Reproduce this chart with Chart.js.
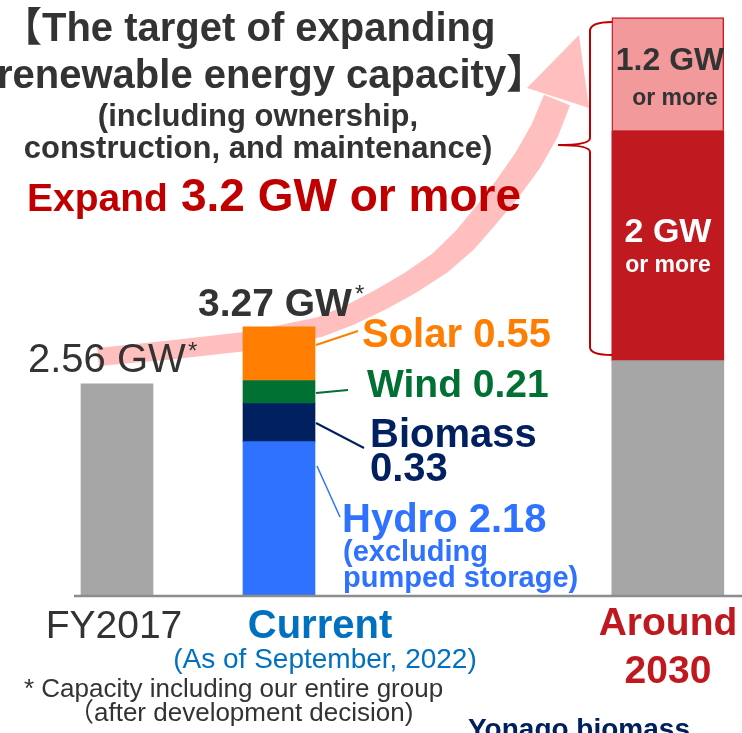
<!DOCTYPE html>
<html>
<head>
<meta charset="utf-8">
<script src="https://cdn.jsdelivr.net/npm/chart.js@4.4.0/dist/chart.umd.min.js"></script>
<style>
    html, body { margin: 0; padding: 0; background: #fff; }
    #chartBox { width: 742px; height: 733px; }
</style>
</head>
<body>
<div id="chartBox"><canvas id="myChart" width="742" height="733"></canvas></div>
<script>
// categories and where they sit on the x axis (the original spacing is uneven)
const categories = ['FY2017', 'Current', 'Around 2030'];
const slots = [0, 1, 3.4];

// bar heights as drawn in the picture (GW); the printed labels are kept separately
const fy2017Values = [2.56];
const currentParts = ['Hydro', 'Biomass', 'Wind', 'Solar'];
const currentValues = [1.86, 0.46, 0.28, 0.65];
const currentLabels = ['Hydro 2.18', 'Biomass 0.33', 'Wind 0.21', 'Solar 0.55'];
const targetParts = ['Existing', '2 GW or more', '1.2 GW or more'];
const targetValues = [2.84, 2.79, 1.37];
const totalLabels = ['2.56 GW', '3.27 GW'];

const FONT = '"Liberation Sans", Arial, "Noto Sans CJK JP", sans-serif';

function text(ctx, str, x, y, size, bold, color, align) {
    ctx.save();
    ctx.font = (bold ? 'bold ' : '') + size + 'px ' + FONT;
    ctx.fillStyle = color;
    ctx.textAlign = align || 'left';
    ctx.textBaseline = 'alphabetic';
    ctx.fillText(str, x, y);
    ctx.restore();
}

function line(ctx, x1, y1, x2, y2, color, width) {
    ctx.save();
    ctx.strokeStyle = color;
    ctx.lineWidth = width;
    ctx.beginPath();
    ctx.moveTo(x1, y1);
    ctx.lineTo(x2, y2);
    ctx.stroke();
    ctx.restore();
}

// big pink arrow behind the bars
function drawArrow(ctx) {
    const pts = [[98, 357, 18], [170, 350, 19], [250, 341, 19], [320, 327, 20], [350, 315, 21],
        [380, 300, 22], [410, 283, 23], [440, 263, 24], [465, 240, 26], [487, 214, 27],
        [508, 188, 28], [528, 160, 29], [545, 130, 29], [557, 100, 28]];
    let left = [], right = [];
    for (let n = 0; n < pts.length; n++) {
        let a = pts[Math.max(n - 1, 0)], b = pts[Math.min(n + 1, pts.length - 1)];
        let tx = b[0] - a[0], ty = b[1] - a[1];
        let len = Math.sqrt(tx * tx + ty * ty);
        let nx = -ty / len, ny = tx / len;
        let h = pts[n][2] / 2;
        left.push([pts[n][0] + nx * h, pts[n][1] + ny * h]);
        right.push([pts[n][0] - nx * h, pts[n][1] - ny * h]);
    }
    ctx.save();
    ctx.fillStyle = '#ffbfbf';
    ctx.beginPath();
    ctx.moveTo(left[0][0], left[0][1]);
    for (let n = 1; n < left.length; n++) ctx.lineTo(left[n][0], left[n][1]);
    for (let n = right.length - 1; n >= 0; n--) ctx.lineTo(right[n][0], right[n][1]);
    ctx.closePath();
    ctx.fill();
    ctx.beginPath();
    ctx.moveTo(527, 88);
    ctx.lineTo(579, 35);
    ctx.lineTo(589, 108);
    ctx.closePath();
    ctx.fill();
    ctx.restore();
}

function drawBrace(ctx) {
    ctx.save();
    ctx.strokeStyle = '#c00000';
    ctx.lineWidth = 2;
    ctx.beginPath();
    ctx.moveTo(612, 22);
    ctx.quadraticCurveTo(590, 22, 590, 31);
    ctx.lineTo(590, 138);
    ctx.quadraticCurveTo(590, 145, 558, 145);
    ctx.quadraticCurveTo(590, 145, 590, 152);
    ctx.lineTo(590, 347);
    ctx.quadraticCurveTo(590, 355, 612, 355);
    ctx.stroke();
    ctx.restore();
}

const decorPlugin = {
    id: 'decor',
    beforeDatasetsDraw(chart) {
        drawArrow(chart.ctx);
    },
    afterDatasetsDraw(chart) {
        const ctx = chart.ctx;
        const y0 = chart.scales.y.getPixelForValue(0);
        line(ctx, 74, y0 + 1, 742, y0 + 1, '#8c8c8c', 2.5);
        drawBrace(ctx);

        // leader lines from the current bar
        line(ctx, 316, 345, 358, 331, '#ff7d00', 2);
        line(ctx, 316, 393, 348, 390, '#007033', 2);
        line(ctx, 316, 423, 364, 448, '#002060', 2);
        line(ctx, 317, 466, 340, 517, '#2e72ff', 1.5);

        // title block
        const dark = '#333333';
        text(ctx, '【', 2, 41, 40, true, dark);
        text(ctx, 'The target of expanding', 42, 41, 40, true, dark);
        text(ctx, 'renewable energy capacity】', -3, 88, 40, true, dark);
        text(ctx, '(including ownership,', 258, 126, 31, true, dark, 'center');
        text(ctx, 'construction, and maintenance)', 258, 158, 31, true, dark, 'center');
        text(ctx, 'Expand', 27, 211, 39, true, '#c00000');
        text(ctx, '3.2 GW or more', 181, 211, 46, true, '#c00000');

        // totals
        text(ctx, totalLabels[0], 28, 372, 40, false, dark);
        text(ctx, '*', 188, 359, 24, false, dark);
        text(ctx, totalLabels[1], 198, 316, 39, true, dark);
        text(ctx, '*', 355, 302, 24, false, dark);

        // current breakdown
        text(ctx, currentLabels[3], 362, 347, 40, true, '#ff7d00');
        text(ctx, currentLabels[2], 367, 397, 39, true, '#007033');
        text(ctx, 'Biomass', 370, 447, 40, true, '#002060');
        text(ctx, '0.33', 370, 481, 40, true, '#002060');
        text(ctx, currentLabels[0], 342, 532, 40, true, '#2e72ff');
        text(ctx, '(excluding', 343, 561, 29, true, '#2e72ff');
        text(ctx, 'pumped storage)', 343, 587, 29, true, '#2e72ff');

        // 2030 segments
        text(ctx, '1.2 GW', 670, 70, 32, true, dark, 'center');
        text(ctx, 'or more', 675, 105, 23, true, dark, 'center');
        text(ctx, '2 GW', 668, 242, 34, true, '#ffffff', 'center');
        text(ctx, 'or more', 668, 272, 23, true, '#ffffff', 'center');

        // category labels
        text(ctx, categories[0], 114, 638, 39, false, dark, 'center');
        text(ctx, categories[1], 320, 638, 40, true, '#0070c0', 'center');
        text(ctx, '(As of September, 2022)', 325, 668, 28, false, '#0070c0', 'center');
        text(ctx, 'Around', 668, 635, 39, true, '#c0181f', 'center');
        text(ctx, '2030', 668, 683, 39, true, '#c0181f', 'center');

        // footnotes
        text(ctx, '* Capacity including our entire group', 24, 697, 26, false, dark);
        text(ctx, '（after development decision)', 68, 721, 26, false, dark);
        text(ctx, 'Yonago biomass', 468, 738, 28, true, '#002060');
    }
};

const pt = (slot, v) => [{ x: slot, y: v }];
const colorsCurrent = ['#2e72ff', '#002060', '#007033', '#ff7d00'];

let datasets = [];
datasets.push({
    label: categories[0],
    data: pt(slots[0], fy2017Values[0]),
    backgroundColor: '#a6a6a6',
    barThickness: 72,
    stack: 'all'
});
for (let n = 0; n < currentParts.length; n++) {
    datasets.push({
        label: currentParts[n],
        data: pt(slots[1], currentValues[n]),
        backgroundColor: colorsCurrent[n],
        barThickness: 72,
        stack: 'all'
    });
}
const colorsTarget = ['#a6a6a6', '#c0191f', '#f2999b'];
for (let n = 0; n < targetParts.length; n++) {
    datasets.push({
        label: targetParts[n],
        data: pt(slots[2], targetValues[n]),
        backgroundColor: colorsTarget[n],
        borderColor: n === 2 ? '#c8202a' : colorsTarget[n],
        borderWidth: n === 2 ? 1.5 : 0,
        barThickness: 112,
        stack: 'all'
    });
}

const config = {
    type: 'bar',
    data: { datasets: datasets },
    options: {
        responsive: false,
        animation: false,
        layout: { padding: 0 },
        plugins: {
            legend: { display: false },
            tooltip: { enabled: false }
        },
        scales: {
            x: { type: 'linear', display: false, stacked: true, offset: false, min: -0.7222, max: 3.858 },
            y: { display: false, stacked: true, min: -1.6727, max: 7.2121 }
        }
    },
    plugins: [decorPlugin]
};

const myChart = new Chart(document.getElementById('myChart'), config);
</script>
</body>
</html>
